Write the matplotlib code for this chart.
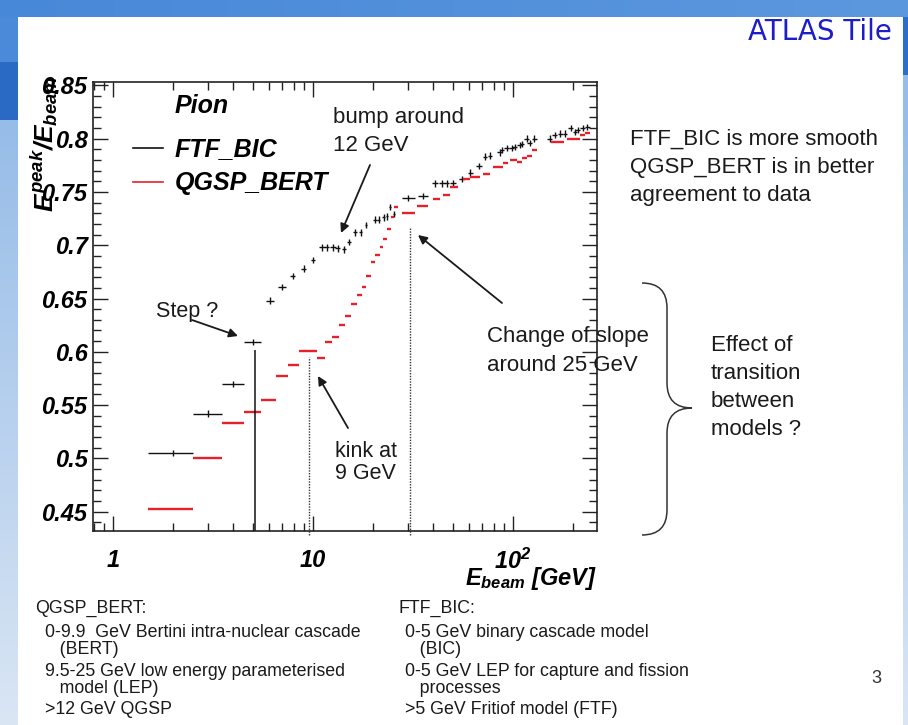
import numpy as np
import matplotlib.pyplot as plt
from matplotlib.path import Path
from matplotlib.patches import PathPatch
from matplotlib.ticker import MultipleLocator, NullFormatter
from matplotlib import font_manager

# ---------------- data ----------------
# FTF_BIC: bin centre, full bin width (GeV), E_peak/E_beam
ftf_e = [2, 3, 4, 5, 6.1, 7.0, 7.9, 9.0, 10.0, 11.1, 11.7, 12.6, 13.3, 14.3,
         15.1, 16.2, 17.3, 18.4, 20.4, 21.3, 22.6, 23.4, 24.3, 25.4, 30, 35.5,
         40.7, 44.2, 46.6, 50.1, 55.5, 61, 67.6, 72.4, 76.7, 86, 88, 93, 98.4,
         101.8, 108, 111, 117, 121, 128, 153, 162, 172, 182, 194, 204, 211,
         223, 235]
ftf_width = [1, 1, 1, 1, 0.6, 0.7, 0.5, 0.5, 0.5, 0.7, 0.6, 0.8, 0.7, 0.6,
             0.6, 0.7, 0.6, 0.6, 0.8, 0.6, 0.8, 0.6, 0.6, 0.8, 4.5, 4,
             2.5, 3, 2.5, 3, 3.5, 3.5, 4, 4, 4, 5, 4, 5, 5,
             5, 6, 6, 7, 7, 7, 9, 9, 10, 10, 11, 11, 12,
             12, 13]
ftf_val = [0.505, 0.542, 0.570, 0.609, 0.648, 0.661, 0.671, 0.678, 0.686,
           0.698, 0.698, 0.698, 0.697, 0.696, 0.703, 0.712, 0.712, 0.719,
           0.724, 0.724, 0.726, 0.727, 0.736, 0.729, 0.744, 0.746, 0.758,
           0.758, 0.758, 0.758, 0.762, 0.768, 0.774, 0.783, 0.784, 0.787,
           0.7895, 0.791, 0.791, 0.792, 0.794, 0.795, 0.800, 0.796, 0.800,
           0.800, 0.8035, 0.8046, 0.8046, 0.810, 0.806, 0.808, 0.810, 0.811]
ftf_err = 0.003

# QGSP_BERT: bin edges (GeV) and E_peak/E_beam
qgsp_lo = [1.5, 2.5, 3.5, 4.5, 5.5, 6.5, 7.5, 8.5, 9.5, 10.5, 11.5, 12.5,
           13.5, 14.5, 15.5, 16.5, 17.5, 18.5, 19.5, 20.5, 21.5, 22.5, 23.5,
           24.5, 25.5, 28, 33, 39.8, 44.7, 48.6, 56.2, 61, 70.8, 79.4, 89,
           96.6, 105, 111, 118, 125, 154, 166, 186, 204, 216, 229]
qgsp_hi = [2.5, 3.5, 4.5, 5.5, 6.5, 7.5, 8.5, 9.5, 10.5, 11.5, 12.5, 13.5,
           14.5, 15.5, 16.5, 17.5, 18.5, 19.5, 20.5, 21.5, 22.5, 23.5, 24.5,
           25.5, 26.5, 32.5, 37.6, 43.3, 48.6, 53.1, 61, 68.4, 76.7, 89, 94.4,
           105, 111, 118, 125, 132, 166, 180, 204, 216, 229, 242]
qgsp_val = [0.453, 0.500, 0.533, 0.544, 0.555, 0.577, 0.588, 0.601, 0.601,
            0.594, 0.609, 0.614, 0.625, 0.634, 0.645, 0.653, 0.661, 0.671,
            0.684, 0.691, 0.698, 0.706, 0.715, 0.726, 0.736, 0.730, 0.737,
            0.743, 0.7475, 0.755, 0.762, 0.764, 0.767, 0.7736, 0.777, 0.780,
            0.778, 0.782, 0.7835, 0.7895, 0.797, 0.797, 0.7995, 0.800, 0.8035,
            0.8055]

# model transition markers: energy, top of line
trans_solid = (5.1, 0.602)
trans_dotted = [(9.55, 0.595), (30.5, 0.717)]

y_ticks = [0.45, 0.5, 0.55, 0.6, 0.65, 0.7, 0.75, 0.8, 0.85]
y_labels = ['0.45', '0.5', '0.55', '0.6', '0.65', '0.7', '0.75', '0.8', '0.85']
x_ticks = [1, 10, 100]
x_labels = ['1', '10', r'$10^{2}$']

# ---------------- fonts ----------------
available = {f.name for f in font_manager.fontManager.ttflist}
narrow = 'Liberation Sans Narrow' if 'Liberation Sans Narrow' in available else 'Liberation Sans'
note_size = 14.5 if narrow == 'Liberation Sans Narrow' else 12.8

plt.rcParams['font.family'] = ['Liberation Sans', 'DejaVu Sans']
plt.rcParams['mathtext.fontset'] = 'custom'
for k in ['rm', 'it', 'bf', 'sf']:
    plt.rcParams['mathtext.' + k] = 'Liberation Sans:italic:bold'

W, H = 908, 725
fig = plt.figure(figsize=(W / 100, H / 100), dpi=100)

# ---------------- slide background ----------------
bg_ax = fig.add_axes([0, 0, 1, 1], zorder=0)
rows = np.arange(H)
t = np.clip((rows - 120) / (H - 120), 0, 1)[:, None]
light = (1 - t) * np.array([150, 188, 232]) + t * np.array([218, 230, 244])
left = light.copy()
left[:62] = [74, 138, 216]
left[62:120] = [42, 106, 196]
right = light.copy()
right[:17] = [74, 138, 216]
right[17:75] = [44, 110, 200]
bg = np.ones((H, W, 3))
bg[:, :18] = left[:, None, :] / 255
bg[:, 903:] = right[:, None, :] / 255
cols = np.linspace(0, 1, W)[:, None]
bg[:17] = ((1 - cols) * np.array([72, 136, 216]) + cols * np.array([92, 152, 222]))[None, :, :] / 255
bg_ax.imshow(bg, extent=(0, W, H, 0), aspect='auto')
bg_ax.set_xlim(0, W)
bg_ax.set_ylim(H, 0)
bg_ax.axis('off')

# ---------------- plot ----------------
ax = fig.add_axes([93 / W, (H - 531) / H, 504 / W, 449 / H], zorder=2)
ax.set_xscale('log')
ax.set_xlim(0.794, 263)
ax.set_ylim(0.432, 0.853)

e = np.array(ftf_e)
w = np.array(ftf_width)
ax.errorbar(e, ftf_val, xerr=w / 2, yerr=ftf_err, fmt='none',
            ecolor='#111111', elinewidth=1.0, capsize=0)
ax.hlines(qgsp_val, qgsp_lo, qgsp_hi, color='#e8202a', lw=1.7)

ax.vlines(trans_solid[0], 0.432, trans_solid[1], color='#111111', lw=1.1)
for xe, ytop in trans_dotted:
    ax.vlines(xe, 0.428, ytop, color='#333333', lw=1.0,
              linestyles=(0, (1, 1)), clip_on=False)

ax.set_yticks(y_ticks, labels=y_labels, fontsize=17, fontweight='bold',
              fontstyle='italic')
ax.set_xticks(x_ticks, labels=x_labels, fontsize=17, fontweight='bold',
              fontstyle='italic')
ax.yaxis.set_minor_locator(MultipleLocator(0.01))
ax.xaxis.set_minor_formatter(NullFormatter())
ax.tick_params(which='both', direction='in', top=True, right=True,
               width=1.0, color='#222222')
ax.tick_params(which='major', length=11)
ax.tick_params(which='minor', length=6)
ax.tick_params(axis='x', which='major', pad=13)
ax.tick_params(axis='y', which='major', pad=4)
for s in ax.spines.values():
    s.set_linewidth(1.2)
    s.set_color('#222222')

# ---------------- overlay (pixel coordinates) ----------------
ov = fig.add_axes([0, 0, 1, 1], zorder=3)
ov.set_xlim(0, W)
ov.set_ylim(H, 0)
ov.axis('off')
ov.patch.set_alpha(0)

ink = '#1a1a1a'


def lines(x, baselines, texts, **kw):
    for yb, s in zip(baselines, texts):
        ov.text(x, yb, s, va='baseline', ha='left', color=ink, **kw)


def arrow(x0, y0, x1, y1):
    ov.annotate('', xy=(x1, y1), xytext=(x0, y0),
                arrowprops=dict(arrowstyle='-|>', color=ink, lw=1.3,
                                mutation_scale=13, shrinkA=0, shrinkB=0))


# axis titles
ov.text(44, 76, r'$E^{peak}/E_{beam}$', rotation=90, ha='center', va='top',
        fontsize=19)
ov.text(597, 585, r'$E_{beam}$ [GeV]', ha='right', va='baseline',
        fontsize=17, fontweight='bold', fontstyle='italic')

# legend
ov.text(175, 113, 'Pion', fontsize=18, fontweight='bold', fontstyle='italic')
ov.plot([133, 163], [148, 148], color='#111111', lw=1.2)
ov.plot([133, 163], [182, 182], color='#e8202a', lw=1.2)
ov.text(175, 156, 'FTF_BIC', fontsize=18, fontweight='bold', fontstyle='italic')
ov.text(175, 190, 'QGSP_BERT', fontsize=18, fontweight='bold', fontstyle='italic')

# annotations
lines(156, [317], ['Step ?'], fontsize=15.5)
arrow(192, 320, 238, 336)
lines(335, [457, 479], ['kink at', '9 GeV'], fontsize=15.5)
arrow(348, 428, 318, 376)
lines(333, [123, 151], ['bump around', '12 GeV'], fontsize=16)
arrow(370, 165, 341, 233)
lines(487, [342, 371], ['Change of slope', 'around 25 GeV'], fontsize=16)
arrow(502, 303, 418, 235)

# brace
bp = Path([(642, 283), (667, 283), (667, 308), (667, 383), (667, 408),
           (692, 408), (667, 408), (667, 433), (667, 510), (667, 535),
           (642, 535)],
          [Path.MOVETO, Path.CURVE3, Path.CURVE3, Path.LINETO, Path.CURVE3,
           Path.CURVE3, Path.CURVE3, Path.CURVE3, Path.LINETO, Path.CURVE3,
           Path.CURVE3])
ov.add_patch(PathPatch(bp, fill=False, edgecolor='#333333', lw=1.1))

lines(711, [351, 379, 407, 435],
      ['Effect of', 'transition', 'between', 'models ?'], fontsize=16)
lines(630, [145, 173, 201],
      ['FTF_BIC is more smooth', 'QGSP_BERT is in better', 'agreement to data'],
      fontsize=16)

ov.text(892, 40, 'ATLAS Tile', ha='right', va='baseline', fontsize=20,
        color='#1c1cc8', family=['DejaVu Sans'])

# model notes
lines(35, [613], ['QGSP_BERT:'], fontsize=note_size, family=[narrow])
lines(45, [637, 654, 676, 693, 714],
      ['0-9.9  GeV Bertini intra-nuclear cascade', '   (BERT)',
       '9.5-25 GeV low energy parameterised', '   model (LEP)',
       '>12 GeV QGSP'], fontsize=note_size, family=[narrow])
lines(398, [613], ['FTF_BIC:'], fontsize=note_size, family=[narrow])
lines(405, [637, 654, 676, 693, 714],
      ['0-5 GeV binary cascade model', '   (BIC)',
       '0-5 GeV LEP for capture and fission', '   processes',
       '>5 GeV Fritiof model (FTF)'], fontsize=note_size, family=[narrow])
ov.text(876, 683, '3', ha='center', va='baseline', fontsize=13, color='#333333')

fig.savefig('out.png', dpi=100)
